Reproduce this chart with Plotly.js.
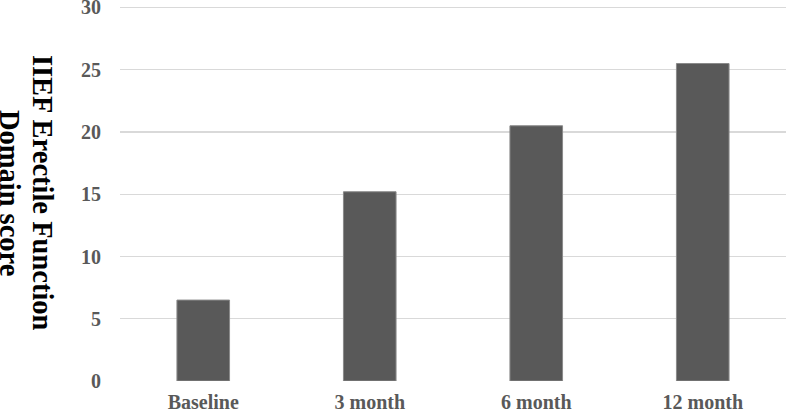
<!DOCTYPE html>
<html>
<head>
<meta charset="utf-8">
<script src="https://cdn.plot.ly/plotly-3.0.1.min.js"></script>
<style>html,body{margin:0;padding:0;background:#fff;}#chart{width:787px;height:412px;}</style>
</head>
<body>
<div id="chart"></div>
<script>
const categories = ["Baseline", "3 month", "6 month", "12 month"];
const scores = [6.5, 15.2, 20.5, 25.5];
const yTicks = [0, 5, 10, 15, 20, 25, 30];
const yTitleLines = ["IIEF Erectile Function", "Domain score"];

const trace = {
  type: "bar",
  x: categories,
  y: scores,
  marker: { color: "#595959", line: { color: "#8a8a8a", width: 1 } },
  hoverinfo: "x+y"
};

const titleFont = { family: "Liberation Serif", size: 28.5, color: "#000000", weight: "bold" };

const layout = {
  width: 787,
  height: 412,
  margin: { l: 120, r: 1, t: 5, b: 31, pad: 0 },
  paper_bgcolor: "#ffffff",
  plot_bgcolor: "#ffffff",
  bargap: 0.684,
  showlegend: false,
  font: { family: "Liberation Serif, Times New Roman, serif" },
  xaxis: {
    type: "category",
    showgrid: false,
    showline: false,
    ticks: "",
    ticklabelstandoff: 7,
    ticklabeloverflow: "allow",
    tickfont: { family: "Liberation Serif", size: 20, color: "#595959", weight: "bold" }
  },
  yaxis: {
    range: [0, 30.2],
    tickvals: yTicks,
    ticktext: yTicks.map(String),
    showgrid: true,
    gridcolor: "#d9d9d9",
    gridwidth: 1.3,
    zeroline: false,
    showline: false,
    ticks: "",
    ticklabelstandoff: 18,
    ticklabeloverflow: "allow",
    tickfont: { family: "Liberation Serif", size: 20, color: "#595959", weight: "bold" }
  },
  annotations: [
    {
      text: yTitleLines[0], textangle: 90, showarrow: false,
      xref: "paper", yref: "paper", x: -0.1155, y: 0.5,
      xanchor: "center", yanchor: "middle", font: titleFont
    },
    {
      text: yTitleLines[1], textangle: 90, showarrow: false,
      xref: "paper", yref: "paper", x: -0.165, y: 0.5,
      xanchor: "center", yanchor: "middle", font: titleFont
    }
  ]
};

Plotly.newPlot("chart", [trace], layout, { displayModeBar: false, staticPlot: true });
</script>
</body>
</html>
